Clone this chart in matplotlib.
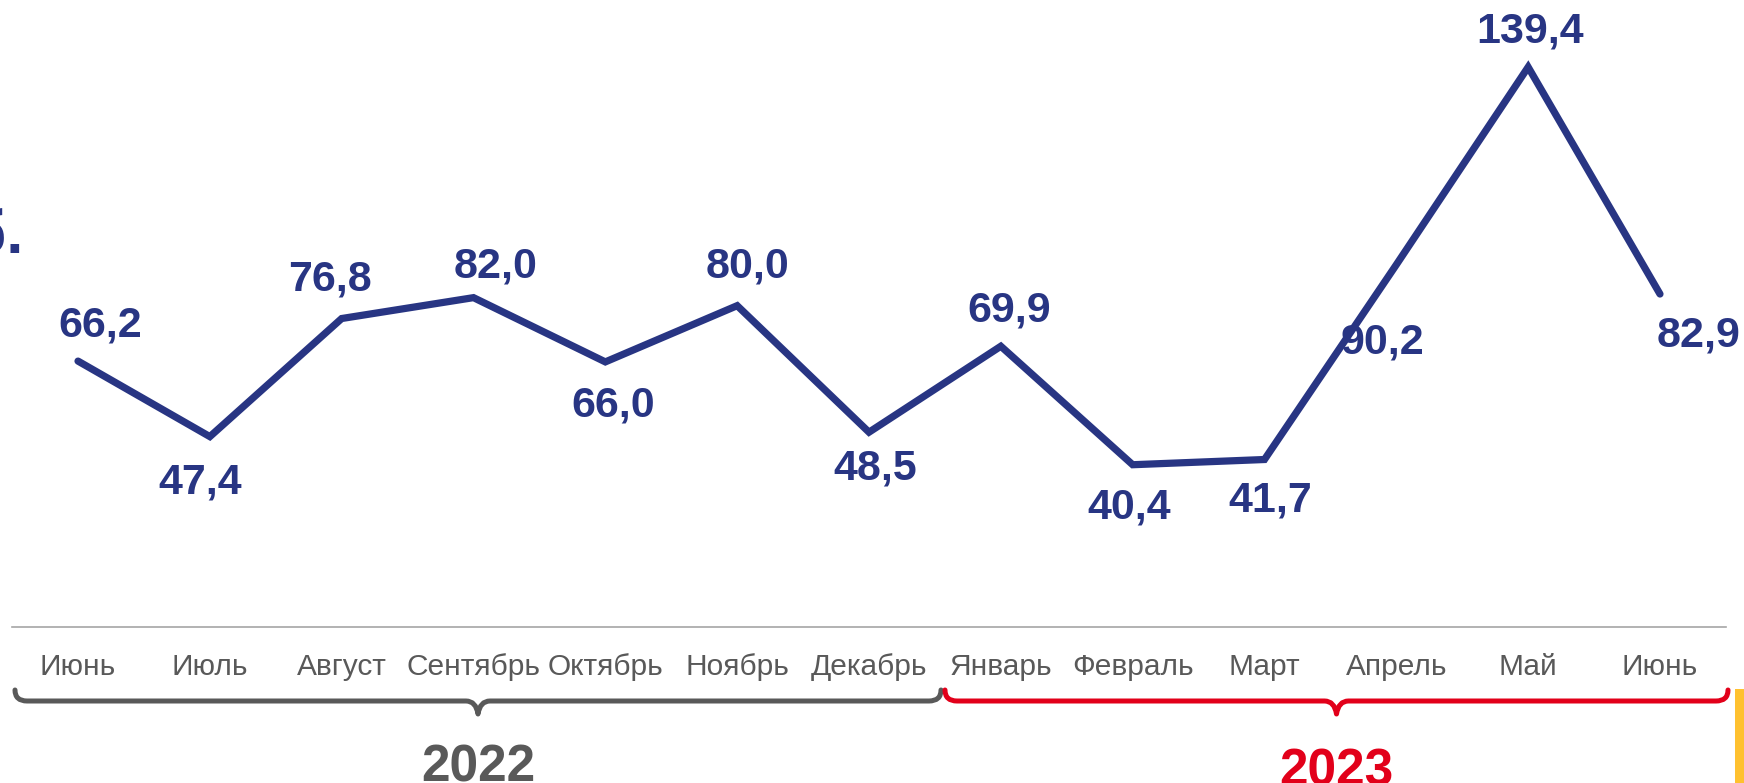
import numpy as np
import matplotlib.pyplot as plt
from matplotlib.path import Path
from matplotlib.patches import PathPatch

plt.rcParams['font.family'] = ['Liberation Sans', 'DejaVu Sans']

# data
months = ['Июнь', 'Июль', 'Август', 'Сентябрь', 'Октябрь', 'Ноябрь', 'Декабрь',
          'Январь', 'Февраль', 'Март', 'Апрель', 'Май', 'Июнь']
values = [66.2, 47.4, 76.8, 82.0, 66.0, 80.0, 48.5, 69.9, 40.4, 41.7, 90.2, 139.4, 82.9]
years = ['2022', '2023']

NAVY = '#283583'
GREY = '#595959'
RED = '#E2001A'
YELLOW = '#FFC12F'

# label offsets in pixels (dx, dy), placed by hand like in the slide
lbl_off = [(22, 36), (-10, -46), (-12, 39), (22, 31), (8, -44), (10, 39), (6, -36),
           (8, 36), (-3, -43), (6, -41), (-14, -78), (2, 36), (39, -41)]

W, H = 1744, 783
fig = plt.figure(figsize=(W / 100, H / 100), dpi=100)
ax = fig.add_axes([12.1 / W, 156 / H, 1713.8 / W, 627 / H])

x = np.arange(len(values))
ax.plot(x, values, color=NAVY, lw=5.2, solid_capstyle='round', solid_joinstyle='miter')

for i, v in enumerate(values):
    ax.annotate(f'{v:.1f}'.replace('.', ','), (i, v), xytext=lbl_off[i],
                textcoords='offset pixels', ha='center', va='center',
                fontsize=31, fontweight='bold', color=NAVY)

ax.set_xlim(-0.5, len(values) - 0.5)
ax.set_ylim(0, 156.1)
ax.set_xticks(x)
ax.set_xticklabels(months, fontsize=21.5, color=GREY)
ax.tick_params(axis='x', length=0, pad=19)
ax.set_yticks([])
for s in ['top', 'left', 'right']:
    ax.spines[s].set_visible(False)
ax.spines['bottom'].set_color('#A6A6A6')
ax.spines['bottom'].set_linewidth(1.2)
ax.patch.set_alpha(0)

# overlay in pixel coords (top origin) for braces and year labels
ov = fig.add_axes([0, 0, 1, 1])
ov.set_xlim(0, W)
ov.set_ylim(H, 0)
ov.axis('off')


def brace(x0, x1, color, y_end=690, y_mid=701, y_tip=714, r=12):
    xc = (x0 + x1) / 2
    verts = [(x0, y_end), (x0, y_mid), (x0 + r, y_mid),
             (xc - r, y_mid),
             (xc - 2, y_mid), (xc, y_tip),
             (xc + 2, y_mid), (xc + r, y_mid),
             (x1 - r, y_mid),
             (x1, y_mid), (x1, y_end)]
    codes = [Path.MOVETO, Path.CURVE3, Path.CURVE3,
             Path.LINETO,
             Path.CURVE3, Path.CURVE3,
             Path.CURVE3, Path.CURVE3,
             Path.LINETO,
             Path.CURVE3, Path.CURVE3]
    ov.add_patch(PathPatch(Path(verts, codes), fill=False, edgecolor=color,
                           lw=3.6, capstyle='round', joinstyle='round'))
    return xc


xc1 = brace(15, 941, GREY)
xc2 = brace(945, 1728, RED)
ov.text(xc1, 782, years[0], ha='center', va='baseline', fontsize=37,
        fontweight='bold', color=GREY)
ov.text(xc2, 786, years[1], ha='center', va='baseline', fontsize=37,
        fontweight='bold', color=RED)

# yellow strip at right edge
ov.add_patch(plt.Rectangle((1735, 689), 12, 100, color=YELLOW, lw=0))

# cut-off unit text at left
ov.text(24, 253, 'руб.', ha='right', va='baseline', fontsize=44,
        fontweight='bold', color=NAVY)

fig.savefig('out.png', dpi=100)
